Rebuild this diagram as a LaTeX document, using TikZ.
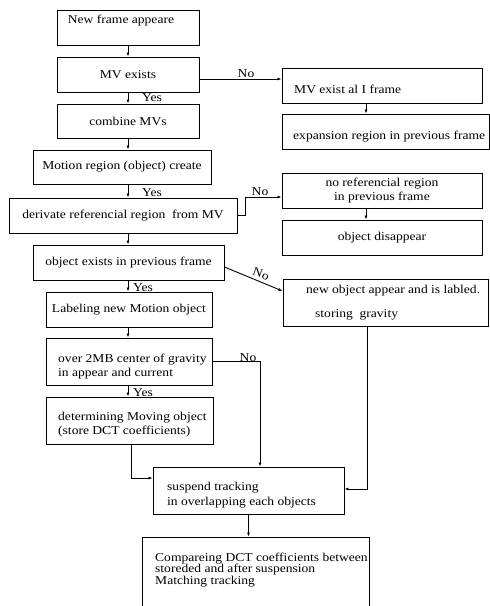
\documentclass[tikz,border=0pt]{standalone}
\usepackage{fontspec}
\setmainfont[FakeStretch=1.13]{Liberation Serif}
\usetikzlibrary{arrows.meta}
\newcommand\fsz{\fontsize{12}{14}\selectfont}
\begin{document}
\begin{tikzpicture}[x=1pt,y=-1pt,
  box/.style={draw, line width=0.9pt, inner sep=0pt, font=\fsz, align=center},
  txt/.style={inner sep=0pt, font=\fsz, align=left},
  lbl/.style={inner sep=0pt, font=\fsz},
  arr/.style={line width=0.9pt, -{Latex[length=4pt,width=3pt]}}]
\clip (0,0) rectangle (490,606);
\fill[white] (0,0) rectangle (490,606);
% left column boxes
\node[box, minimum width=142, minimum height=35] (b1) at (128,27.5) {};
\node[lbl, anchor=base] (b1t) at (121,23) {New frame appeare};
\node[box, minimum width=142, minimum height=35] (b2) at (128,74.5) {MV exists};
\node[box, minimum width=142, minimum height=34] (b3) at (128,121) {combine MVs};
\node[box, minimum width=178, minimum height=34] (b4) at (122,167) {Motion region (object) create};
\node[box, minimum width=228, minimum height=35] (b5) at (123,215.5) {derivate referencial region\ \ from MV};
\node[box, minimum width=191, minimum height=35] (b6) at (128.5,262.5) {object exists in previous frame};
\node[box, minimum width=166, minimum height=35] (b7) at (129,309.5) {Labeling new Motion object};
\node[box, minimum width=166, minimum height=47] (b8) at (129,361.5) {};
\node[txt, anchor=west] (b8t) at (58,367) {over 2MB center of gravity\\in appear and current};
\node[box, minimum width=167, minimum height=47] (b9) at (129.5,420.5) {};
\node[txt, anchor=west] (b9t) at (58,425) {determining Moving object\\(store DCT coefficients)};
\node[box, minimum width=191, minimum height=47] (b10) at (248.5,490.5) {};
\node[txt, anchor=west] (b10t) at (167,495.5) {suspend tracking\\[1pt]in overlapping each objects};
\node[box, minimum width=227, minimum height=75] (b11) at (255.5,574.5) {};
\node[txt, anchor=west, font=\fontsize{12}{11.5}\selectfont] (b11t) at (155,570) {Compareing DCT coefficients between\\storeded and after suspension\\Matching tracking};
% right column boxes
\node[box, minimum width=200, minimum height=35] (r1) at (382,85.5) {};
\node[lbl, anchor=base west] (r1t) at (294,93) {MV exist al I frame};
\node[box, minimum width=207, minimum height=35] (r2) at (385.5,131.5) {};
\node[lbl, anchor=base west] (r2t) at (293,139) {expansion region in previous frame};
\node[box, minimum width=200, minimum height=35] (r3) at (382,190.5) {no referencial region\\in previous frame};
\node[box, minimum width=200, minimum height=35] (r4) at (382,237.5) {object disappear};
\node[box, minimum width=205, minimum height=47] (r5) at (385.5,302.5) {};
\node[lbl, anchor=base west] (r5a) at (306,293) {new object appear and is labled.};
\node[lbl, anchor=base west] (r5b) at (315,317) {storing\ \ gravity};
% helper coordinates
\coordinate (ax) at (128,0);
\coordinate (rx) at (366,0);
\coordinate (y1) at (0,79);
\coordinate (k2) at (245,197);
\coordinate (k3a) at (0,267);
\coordinate (k3b) at (0,291);
\coordinate (k4) at (260,0);
\coordinate (k5) at (367,489);
\coordinate (k6) at (131,478);
% main column arrows
\draw[arr] (b1.south -| ax) -- (b2.north -| ax);
\draw[arr] (b2.south -| ax) -- (b3.north -| ax);
\draw[arr] (b3.south -| ax) -- (b4.north -| ax);
\draw[arr] (b4.south -| ax) -- (b5.north -| ax);
\draw[arr] (b5.south -| ax) -- (b6.north -| ax);
\draw[arr] (b6.south -| ax) -- (b7.north -| ax);
\draw[arr] (b7.south -| ax) -- (b8.north -| ax);
\draw[arr] (b8.south -| ax) -- (b9.north -| ax);
\node[lbl] (yes1) at (152,98) {Yes};
\node[lbl] (yes2) at (152,193) {Yes};
\node[lbl] (yes3) at (143,288) {Yes};
\node[lbl] (yes4) at (143,393) {Yes};
% right column arrows
\draw[arr] (r1.south -| rx) -- (r2.north -| rx);
\draw[arr] (r3.south -| rx) -- (r4.north -| rx);
% No branches
\draw[arr] (b2.east |- y1) -- (r1.west |- y1);
\node[lbl] (no1) at (246,74) {No};
\draw[arr] (b5.east) -| (k2) -- (r3.west |- k2);
\node[lbl] (no2) at (260,192) {No};
\draw[arr] (b6.east |- k3a) -- (r5.west |- k3b);
\node[lbl, rotate=-20] (no3) at (261,274) {No};
\draw[arr] (b8.east) -| (b10.north -| k4);
\node[lbl] (no4) at (248,358) {No};
% joins into suspend tracking
\draw[arr] (r5.south -| k5) |- (b10.east |- k5);
\draw[arr] (b9.south -| k6) |- (b10.west |- k6);
\draw[arr] (b10.south) -- (b11.north -| b10.south);
\end{tikzpicture}
\end{document}
